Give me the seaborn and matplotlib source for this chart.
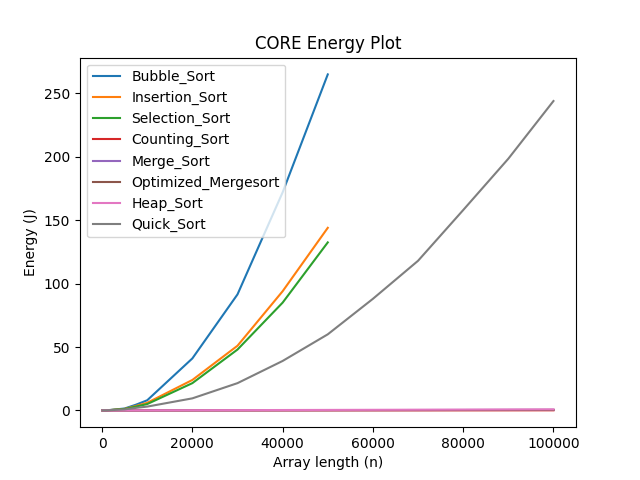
import numpy as np
import pandas as pd
import seaborn as sns
import matplotlib.pyplot as plt

# array lengths used for the slow sorts and for the rest
n_short = [100, 1000, 5000, 7500, 10000, 20000, 30000, 40000, 50000]
n_long = [100, 1000, 5000, 7500, 10000, 20000, 30000, 40000, 50000,
          60000, 70000, 80000, 90000, 100000]

bubble_sort = [0.0, 0.05, 1.5, 4.5, 8.0, 41.0, 91.5, 172.0, 265.0]
insertion_sort = [0.0, 0.04, 1.2, 3.5, 6.0, 24.0, 51.0, 94.0, 144.0]
selection_sort = [0.0, 0.04, 1.1, 3.0, 5.0, 21.5, 48.0, 85.0, 132.5]
counting_sort = [0.0, 0.0, 0.01, 0.01, 0.01, 0.02, 0.03, 0.03, 0.04,
                 0.05, 0.05, 0.06, 0.06, 0.07]
merge_sort = [0.0, 0.0, 0.02, 0.03, 0.04, 0.08, 0.12, 0.16, 0.2,
              0.25, 0.3, 0.35, 0.4, 0.45]
optimized_mergesort = [0.0, 0.0, 0.02, 0.02, 0.03, 0.06, 0.1, 0.13, 0.17,
                       0.2, 0.24, 0.28, 0.32, 0.36]
heap_sort = [0.0, 0.0, 0.03, 0.05, 0.07, 0.15, 0.23, 0.3, 0.38,
             0.46, 0.55, 0.63, 0.72, 0.8]
quick_sort = [0.0, 0.02, 0.8, 2.0, 3.0, 9.5, 21.5, 39.0, 60.0,
              88.0, 118.0, 158.0, 198.5, 244.0]

series = [
    ("Bubble_Sort", n_short, bubble_sort),
    ("Insertion_Sort", n_short, insertion_sort),
    ("Selection_Sort", n_short, selection_sort),
    ("Counting_Sort", n_long, counting_sort),
    ("Merge_Sort", n_long, merge_sort),
    ("Optimized_Mergesort", n_long, optimized_mergesort),
    ("Heap_Sort", n_long, heap_sort),
    ("Quick_Sort", n_long, quick_sort),
]

colors = sns.color_palette("tab10")

fig, ax = plt.subplots(figsize=(6.4, 4.8), dpi=100)
for i, (name, n, energy) in enumerate(series):
    df = pd.DataFrame({"n": n, "energy": energy})
    sns.lineplot(data=df, x="n", y="energy", ax=ax, color=colors[i], label=name)

ax.set_title("CORE Energy Plot")
ax.set_xlabel("Array length (n)")
ax.set_ylabel("Energy (J)")
ax.legend(loc="upper left")

plt.savefig("out.png")
plt.close()
